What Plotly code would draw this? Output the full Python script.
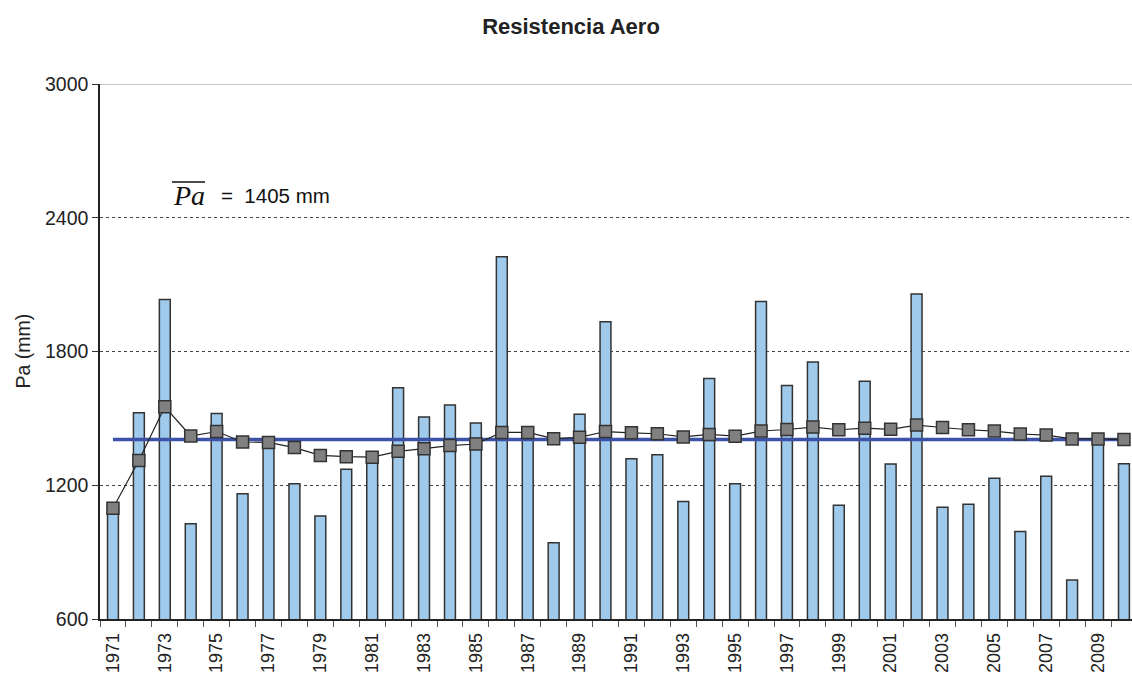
import plotly.graph_objects as go

years = list(range(1971, 2011))
precip = [1097, 1525, 2033, 1027, 1522, 1162, 1375, 1207, 1062, 1272,
          1306, 1637, 1506, 1560, 1479, 2225, 1430, 942, 1518, 1933,
          1319, 1337, 1127, 1679, 1207, 2024, 1648, 1753, 1110, 1666,
          1295, 2058, 1101, 1115, 1231, 992, 1240, 775, 1405, 1297]
running_mean = [1097, 1311, 1552, 1421, 1441, 1394, 1392, 1369, 1334, 1328,
                1326, 1352, 1364, 1378, 1385, 1437, 1437, 1409, 1415, 1441,
                1435, 1431, 1417, 1428, 1420, 1443, 1450, 1461, 1449, 1456,
                1451, 1470, 1459, 1449, 1443, 1430, 1425, 1408, 1408, 1405]
mean_value = 1405
y_ticks = [600, 1200, 1800, 2400, 3000]
x_labels = [y for y in years if y % 2 == 1]

W, H = 1132, 677
L, R, T, B = 100, 0, 84, 58
pw, ph = W - L - R, H - T - B

def px(x):
    return (x - L) / pw

def py(y):
    return (H - B - y) / ph

fig = go.Figure()
fig.add_trace(go.Bar(
    x=years, y=precip, width=0.42,
    marker=dict(color="#9FCAEC", line=dict(color="#333333", width=1.5)),
    showlegend=False))
fig.add_trace(go.Scatter(
    x=[years[0], years[-1]], y=[mean_value, mean_value], mode="lines",
    line=dict(color="#3B52A8", width=3.5), showlegend=False))
fig.add_trace(go.Scatter(
    x=years, y=running_mean, mode="lines+markers",
    line=dict(color="#222222", width=1.2),
    marker=dict(symbol="square", size=12, color="#808080",
                line=dict(color="#333333", width=1.5)),
    showlegend=False))

font_main = "Liberation Sans, Arial, sans-serif"

fig.update_layout(
    width=W, height=H,
    margin=dict(l=L, r=R, t=T, b=B, autoexpand=False),
    paper_bgcolor="white", plot_bgcolor="white",
    font=dict(family=font_main, size=19, color="#222222"),
    title=dict(text="<b>Resistencia Aero</b>", x=571 / W, xref="container",
               xanchor="center", y=1 - 26 / H, yref="container", yanchor="middle",
               font=dict(size=22, color="#222222", family=font_main)),
    bargap=0.58,
    xaxis=dict(range=[1970.5, 2010.31], tickmode="array", tickvals=x_labels,
               ticktext=[str(v) for v in x_labels], tickangle=-90, ticks="",
               ticklabelstandoff=5,
               showgrid=False, showline=True, linecolor="#222222", linewidth=1.5,
               zeroline=False, tickfont=dict(size=18),
               minor=dict(tickvals=[y - 0.5 for y in years] + [years[-1] + 0.5],
                          ticks="outside", ticklen=6, tickcolor="#555555",
                          tickwidth=1.2, showgrid=False)),
    yaxis=dict(range=[600, 3000], tickmode="array", tickvals=y_ticks,
               ticks="outside", ticklen=6, tickcolor="#333333",
               showline=True, linecolor="#222222", linewidth=1.5,
               showgrid=True, gridcolor="#444444", griddash="dot", gridwidth=1,
               zeroline=False, tickfont=dict(size=19.5)),
    shapes=[
        dict(type="line", xref="paper", yref="y", x0=0, x1=1, y0=3000, y1=3000,
             line=dict(color="#8a8a8a", width=1.2)),
        dict(type="line", xref="paper", yref="paper", x0=px(172), x1=px(205),
             y0=py(182), y1=py(182), line=dict(color="#111111", width=1.5)),
    ],
    annotations=[
        dict(text="Pa (mm)", xref="paper", yref="paper", x=0, y=0.5,
             xshift=-(L - 22), xanchor="center", yanchor="middle",
             textangle=-90, showarrow=False, font=dict(size=19.5)),
        dict(text="<i>Pa</i>", xref="paper", yref="paper", x=px(171), y=py(196),
             xanchor="left", yanchor="middle", showarrow=False,
             font=dict(family="Liberation Serif, Times New Roman, serif", size=28,
                       color="#111111")),
        dict(text="=  1405 mm", xref="paper", yref="paper", x=px(219), y=py(196),
             xanchor="left", yanchor="middle", showarrow=False,
             font=dict(size=20.5, color="#111111")),
    ],
)

fig.write_html("out.html", config={"displayModeBar": False},
               post_script="document.body.style.margin='0';document.body.style.padding='0';document.body.style.overflow='hidden';")
